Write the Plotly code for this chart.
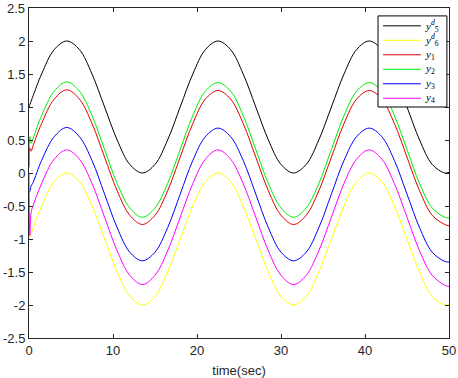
import plotly.graph_objects as go

# time samples (sec)
t = [0, 0.1, 0.25, 0.5,
     1.5, 3, 4.5, 6, 7.5, 9, 10.5, 12, 13.5, 15, 16.5, 18,
     19.5, 21, 22.5, 24, 25.5, 27, 28.5, 30, 31.5, 33, 34.5, 36,
     37.5, 39, 40.5, 42, 43.5, 45, 46.5, 48, 49.5, 50]

y5d = [1, 1.035, 1.087, 1.174,
       1.5, 1.87, 2, 1.87, 1.5, 1, 0.5, 0.13, 0, 0.13, 0.5, 1,
       1.5, 1.87, 2, 1.87, 1.5, 1, 0.5, 0.13, 0, 0.13, 0.5, 1,
       1.5, 1.87, 2, 1.87, 1.5, 1, 0.5, 0.13, 0, 0.01]

y6d = [-1, -0.965, -0.913, -0.826,
       -0.5, -0.13, 0, -0.13, -0.5, -1, -1.5, -1.87, -2, -1.87, -1.5, -1,
       -0.5, -0.13, 0, -0.13, -0.5, -1, -1.5, -1.87, -2, -1.87, -1.5, -1,
       -0.5, -0.13, 0, -0.13, -0.5, -1, -1.5, -1.87, -2, -1.99]

y1 = [0.1, 0.38, 0.33, 0.42,
      0.75, 1.12, 1.26, 1.12, 0.75, 0.24, -0.27, -0.64, -0.78, -0.64, -0.27, 0.24,
      0.75, 1.12, 1.25, 1.12, 0.75, 0.24, -0.27, -0.64, -0.78, -0.64, -0.27, 0.24,
      0.75, 1.12, 1.25, 1.12, 0.75, 0.24, -0.27, -0.64, -0.78, -0.8]

y2 = [0.08, 0.55, 0.45, 0.53,
      0.87, 1.24, 1.38, 1.24, 0.87, 0.355, -0.16, -0.53, -0.67, -0.53, -0.16, 0.355,
      0.87, 1.24, 1.37, 1.24, 0.87, 0.355, -0.16, -0.53, -0.67, -0.53, -0.16, 0.355,
      0.87, 1.24, 1.37, 1.24, 0.87, 0.355, -0.16, -0.53, -0.67, -0.68]

y3 = [-0.3, -0.28, -0.2, -0.14,
      0.19, 0.55, 0.69, 0.55, 0.19, -0.32, -0.83, -1.2, -1.33, -1.2, -0.83, -0.32,
      0.19, 0.55, 0.68, 0.55, 0.19, -0.32, -0.83, -1.2, -1.33, -1.2, -0.83, -0.32,
      0.19, 0.55, 0.68, 0.55, 0.19, -0.32, -0.83, -1.2, -1.34, -1.35]

y4 = [0.0, -0.95, -0.6, -0.49,
      -0.16, 0.21, 0.35, 0.21, -0.16, -0.67, -1.18, -1.55, -1.69, -1.55, -1.18, -0.67,
      -0.16, 0.21, 0.35, 0.21, -0.16, -0.67, -1.18, -1.55, -1.69, -1.55, -1.18, -0.67,
      -0.16, 0.21, 0.35, 0.21, -0.16, -0.67, -1.18, -1.55, -1.7, -1.72]

names = ["<i>y</i><sup><i>d</i></sup><sub>5</sub>",
         "<i>y</i><sup><i>d</i></sup><sub>6</sub>",
         "<i>y</i><sub>1</sub>", "<i>y</i><sub>2</sub>",
         "<i>y</i><sub>3</sub>", "<i>y</i><sub>4</sub>"]
series = [y5d, y6d, y1, y2, y3, y4]
colors = ["#000000", "#ffff00", "#e00000", "#00ee00", "#0000ff", "#ff00ff"]

x_ticks = [0, 10, 20, 30, 40, 50]
x_text = ["0", "10", "20", "30", "40", "50"]
y_ticks = [-2.5, -2, -1.5, -1, -0.5, 0, 0.5, 1, 1.5, 2, 2.5]
y_text = ["-2.5", "-2", "-1.5", "-1", "-0.5", "0", "0.5", "1", "1.5", "2", "2.5"]
y_top_label = y_text[-1]

tick_font = dict(family="Liberation Sans, Arial", size=13, color="#262626")

fig = go.Figure()
for ys, nm, c in zip(series, names, colors):
    fig.add_trace(go.Scatter(x=t, y=ys, mode="lines", name=nm, showlegend=False,
                             line=dict(color=c, width=1, shape="spline", smoothing=1.0)))

# legend box drawn in paper coordinates (MATLAB-style compact legend)
shapes = [dict(type="rect", xref="paper", yref="paper", x0=0.831, x1=0.995, y0=0.70, y1=0.976,
               line=dict(color="#000000", width=1), fillcolor="white", layer="above")]
annotations = []
for i, (nm, c) in enumerate(zip(names, colors)):
    yy = 0.946 - i * 0.0439
    shapes.append(dict(type="line", xref="paper", yref="paper", x0=0.843, x1=0.933, y0=yy, y1=yy,
                       line=dict(color=c, width=1), layer="above"))
    annotations.append(dict(xref="paper", yref="paper", x=0.938, y=yy, xanchor="left", yanchor="middle",
                            text=nm, showarrow=False,
                            font=dict(family="Liberation Serif, Times New Roman", size=11, color="#000000")))

# top y tick label (placed as text so that it is not dropped at the figure edge)
annotations.append(dict(xref="paper", yref="y", x=0, y=y_ticks[-1], xanchor="right", yanchor="middle",
                        xshift=-2, text=y_top_label, showarrow=False, font=tick_font))
y_text_axis = y_text[:-1] + [""]

axis_common = dict(showline=True, linecolor="#262626", linewidth=1, mirror="ticks",
                   ticks="inside", ticklen=4, tickcolor="#262626", showgrid=False,
                   zeroline=False, automargin=False, ticklabeloverflow="allow",
                   tickfont=tick_font)

fig.update_layout(
    width=458, height=378,
    margin=dict(l=29, r=9, t=8, b=40),
    paper_bgcolor="white", plot_bgcolor="white",
    xaxis=dict(range=[0, 50], tickvals=x_ticks, ticktext=x_text,
               title=dict(text="time(sec)", standoff=9,
                          font=dict(family="Liberation Sans, Arial", size=13, color="#262626")),
               **axis_common),
    yaxis=dict(range=[-2.5, 2.5], tickvals=y_ticks, ticktext=y_text_axis, **axis_common),
    shapes=shapes,
    annotations=annotations,
    showlegend=False,
)

fig.write_html("out.html", config={"displayModeBar": False},
               post_script="document.body.style.margin='0';")
